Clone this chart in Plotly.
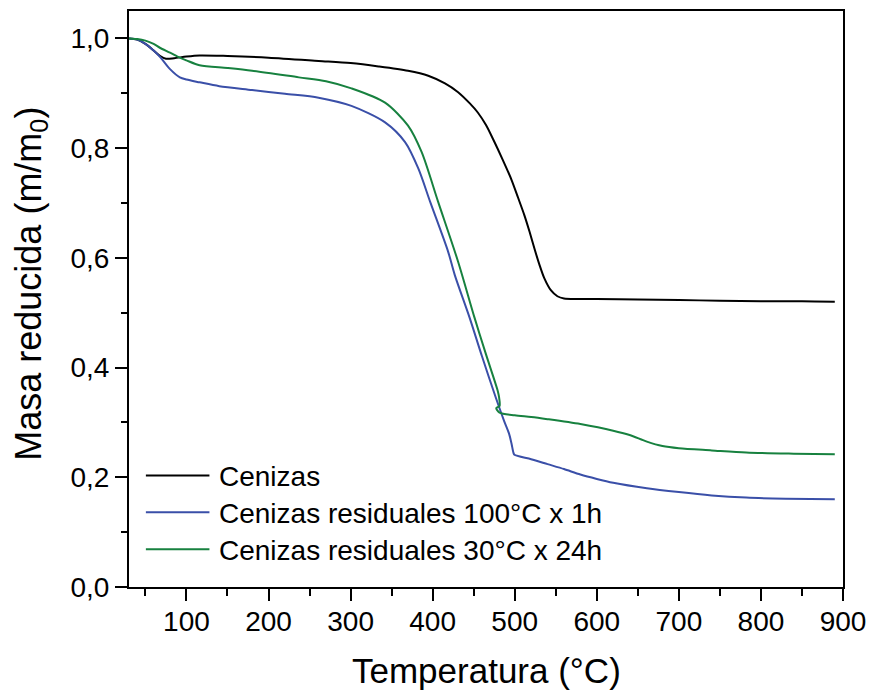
import plotly.graph_objects as go

# ---------------- data ----------------
series_names = ["Cenizas", "Cenizas residuales 100°C x 1h", "Cenizas residuales 30°C x 24h"]

cen_x = [30, 40, 50, 60, 68, 75, 85, 100, 116, 150, 200, 261, 300, 334, 370, 394.6, 415, 431,
         445, 455, 465, 475, 485, 495.6, 504, 511.7, 518, 524, 530, 536, 544, 552, 560, 576,
         600, 650, 700, 750, 800, 850, 890]
cen_y = [1.0, 0.998, 0.99, 0.978, 0.968, 0.963, 0.964, 0.967, 0.969, 0.968, 0.965, 0.959, 0.955,
         0.949, 0.941, 0.932, 0.918, 0.902, 0.882, 0.865, 0.842, 0.812, 0.780, 0.744, 0.710,
         0.678, 0.648, 0.617, 0.588, 0.563, 0.541, 0.530, 0.526, 0.525, 0.525, 0.524, 0.523,
         0.522, 0.521, 0.521, 0.520]

r100_x = [30, 40, 50, 60, 68, 80, 92, 100, 116, 140, 180, 220, 261, 301, 342, 366.4, 382.5,
          397, 418.9, 426.9, 445, 460, 477, 487, 493, 496, 498.4, 499.6, 520, 540, 560,
          580, 600, 620, 661, 700, 740, 782, 830, 890]
r100_y = [1.0, 0.998, 0.99, 0.978, 0.966, 0.944, 0.929, 0.925, 0.920, 0.913, 0.906, 0.899, 0.892,
          0.877, 0.847, 0.811, 0.763, 0.702, 0.611, 0.569, 0.491, 0.421, 0.345,
          0.303, 0.280, 0.262, 0.245, 0.241, 0.233, 0.224, 0.215, 0.205, 0.197, 0.190, 0.180,
          0.173, 0.167, 0.163, 0.161, 0.160]

r30_x = [30, 40, 50, 60, 67.6, 80, 91.8, 100, 116, 150, 180, 237, 270, 301, 342, 370, 386.5,
         406.7, 431, 451, 465, 479.4, 481, 481.5, 477.5, 481.5, 500, 520, 540, 580, 620, 640,
         661, 680, 700, 740, 782, 840, 890]
r30_y = [1.0, 0.999, 0.996, 0.99, 0.983, 0.974, 0.965, 0.960, 0.951, 0.946, 0.941, 0.929, 0.922,
         0.909, 0.883, 0.841, 0.793, 0.702, 0.593, 0.491, 0.424, 0.357, 0.345,
         0.330, 0.326, 0.318, 0.313, 0.310, 0.306, 0.297, 0.285, 0.277, 0.265, 0.257, 0.253,
         0.249, 0.245, 0.243, 0.242]

colors = ["#000000", "#3a4fa8", "#17813f"]

FONT = "Arial, 'Liberation Sans', sans-serif"

fig = go.Figure()
for xs, ys, name, col in [(cen_x, cen_y, series_names[0], colors[0]),
                          (r100_x, r100_y, series_names[1], colors[1]),
                          (r30_x, r30_y, series_names[2], colors[2])]:
    fig.add_trace(go.Scatter(x=xs, y=ys, mode="lines", name=name,
                             line=dict(color=col, width=2, shape="spline", smoothing=0.8),
                             showlegend=False))

# custom legend (line sample + text), paper coordinates
L, R, T, B = 129, 848, 9, 587
def px_x(p):
    return (p - L) / (R - L)
def px_y(p):
    return (B - p) / (B - T)

legend_rows = [475, 512, 549]
for name, col, yy in zip(series_names, colors, legend_rows):
    fig.add_shape(type="line", xref="paper", yref="paper",
                  x0=px_x(146), x1=px_x(210), y0=px_y(yy), y1=px_y(yy),
                  line=dict(color=col, width=2))
    fig.add_annotation(text=name, xref="paper", yref="paper", x=px_x(218), y=px_y(yy + 1),
                       xanchor="left", yanchor="middle", showarrow=False,
                       font=dict(family=FONT, size=28, color="black"))

# axis titles as annotations
fig.add_annotation(text="Temperatura (°C)", xref="paper", yref="paper",
                   x=0.5, y=px_y(671), xanchor="center", yanchor="middle", showarrow=False,
                   font=dict(family=FONT, size=35, color="black"))
fig.add_annotation(text="Masa reducida (m/m<sub>0</sub>)", xref="paper", yref="paper",
                   x=px_x(30), y=px_y(283), xanchor="center", yanchor="middle", showarrow=False,
                   textangle=-90, font=dict(family=FONT, size=36, color="black"))

axis_common = dict(showgrid=False, zeroline=False, showline=True, linecolor="black", linewidth=2,
                   mirror=True, ticks="outside", ticklen=12, tickwidth=2, tickcolor="black",
                   tickfont=dict(family=FONT, size=28, color="black"))

fig.update_xaxes(range=[30, 900], tick0=0, dtick=100, ticklabelstandoff=-4,
                 minor=dict(ticks="outside", ticklen=7, tickwidth=2, tickcolor="black", dtick=50, tick0=0),
                 **axis_common)
fig.update_yaxes(range=[0, 1.05], tick0=0, dtick=0.2, tickformat=".1f",
                 minor=dict(ticks="outside", ticklen=6, tickwidth=2, tickcolor="black", dtick=0.1, tick0=0),
                 **axis_common)

fig.update_layout(width=875, height=691, margin=dict(l=L, r=875 - R, t=T, b=691 - B),
                  plot_bgcolor="white", paper_bgcolor="white", separators=",.",
                  font=dict(family=FONT, color="black"))

fig.write_html("out.html")
